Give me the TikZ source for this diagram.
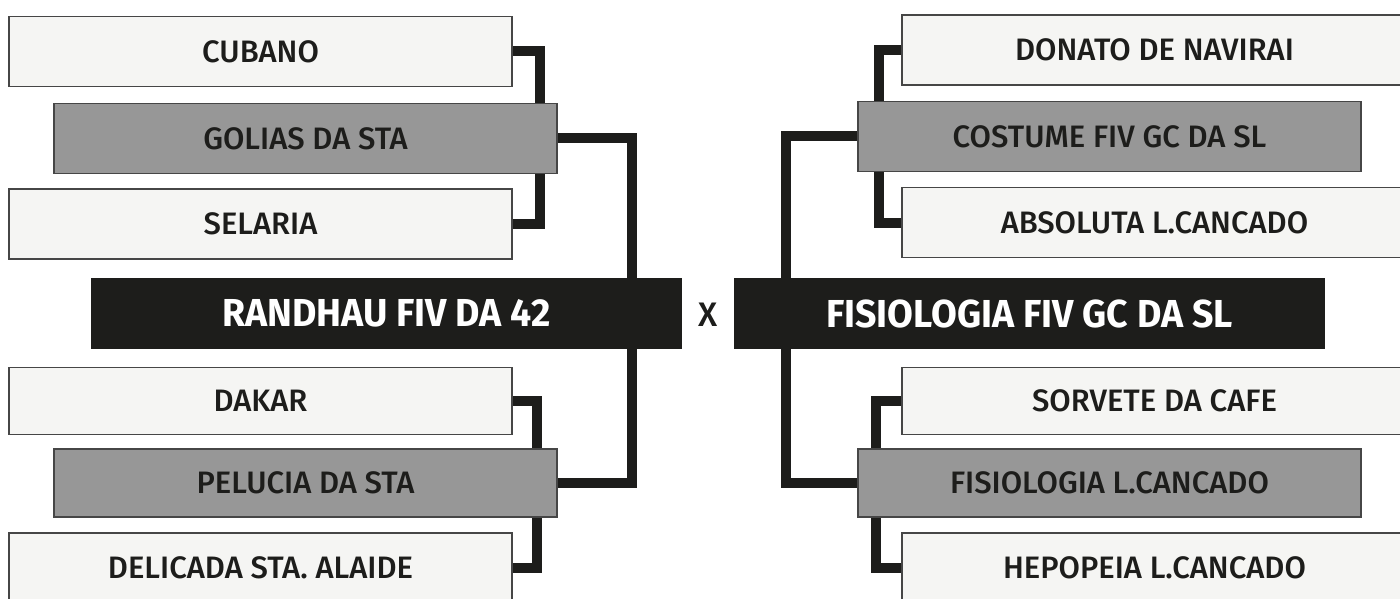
\documentclass[tikz,border=0pt]{standalone}
\usepackage{fontspec}
\setmainfont{Fira Sans}[UprightFont=* Medium,BoldFont=* Bold,BoldFeatures={FakeStretch=0.96}]
\usetikzlibrary{positioning,backgrounds}
\definecolor{seedfill}{RGB}{245,245,243}
\definecolor{semifill}{RGB}{151,151,151}
\definecolor{finalfill}{RGB}{29,29,27}
\definecolor{boxedge}{RGB}{70,70,70}
\tikzset{
  entry/.style={draw=boxedge,line width=1.4pt,inner sep=0pt,minimum width=503,
    minimum height=70,text=finalfill,font=\fontsize{31}{33}\selectfont},
  seed/.style={entry,fill=seedfill},
  semi/.style={entry,fill=semifill},
  final/.style={fill=finalfill,inner sep=0pt,minimum width=591,minimum height=71,
    text=white,font=\bfseries\fontsize{39}{41}\selectfont},
  link/.style={draw=finalfill,line width=10pt}
}
\begin{document}
\begin{tikzpicture}[x=1pt,y=-1pt]
  \useasboundingbox (0,0) rectangle (1400,599);
  \clip (0,0) rectangle (1400,599);
  % left half
  \node[seed] (cubano)   at (260.5,51.5) {CUBANO};
  \node[semi] (golias)   at (305.5,138.5) {GOLIAS DA STA};
  \node[seed] (selaria)  at (260.5,224) {SELARIA};
  \node[final] (randhau) at (386.5,313.5) {RANDHAU FIV DA 42};
  \node[seed,minimum height=67] (dakar) at (260.5,401) {DAKAR};
  \node[semi,minimum height=68] (pelucia) at (305.5,483) {PELUCIA DA STA};
  \node[seed] (delicada) at (260.5,568) {DELICADA STA. ALAIDE};
  % right half
  \node[seed,minimum width=505] (donato)   at (1154.5,50) {DONATO DE NAVIRAI};
  \node[semi] (costume)  at (1109.5,136.5) {COSTUME FIV GC DA SL};
  \node[seed,minimum width=505] (absoluta) at (1154.5,222.5) {ABSOLUTA L.CANCADO};
  \node[final] (fisio)   at (1029.5,313.5) {FISIOLOGIA FIV GC DA SL};
  \node[seed,minimum width=505,minimum height=67] (sorvete) at (1154.5,401) {SORVETE DA CAFE};
  \node[semi,minimum height=68] (fisiol) at (1109.5,483) {FISIOLOGIA L.CANCADO};
  \node[seed,minimum width=505] (hepopeia) at (1154.5,568) {HEPOPEIA L.CANCADO};
  \node[font=\fontsize{34}{36}\selectfont,text=finalfill] (versus) at (708,315) {X};
  % brackets
  \begin{scope}[on background layer]
    \draw[link] (cubano.east) -| ([xshift=-18]golias.north east);
    \draw[link] (selaria.east) -| ([xshift=-18]golias.south east);
    \draw[link] (golias.east) -| ([xshift=-50]randhau.north east);
    \draw[link] (dakar.east) -| ([xshift=-21]pelucia.north east);
    \draw[link] (delicada.east) -| ([xshift=-21]pelucia.south east);
    \draw[link] (pelucia.east) -| ([xshift=-50]randhau.south east);
    \draw[link] (donato.west) -| ([xshift=22]costume.north west);
    \draw[link] (absoluta.west) -| ([xshift=22]costume.south west);
    \draw[link] (costume.west) -| ([xshift=52]fisio.north west);
    \draw[link] (sorvete.west) -| ([xshift=19]fisiol.north west);
    \draw[link] (hepopeia.west) -| ([xshift=19]fisiol.south west);
    \draw[link] (fisiol.west) -| ([xshift=52]fisio.south west);
  \end{scope}
\end{tikzpicture}
\end{document}
